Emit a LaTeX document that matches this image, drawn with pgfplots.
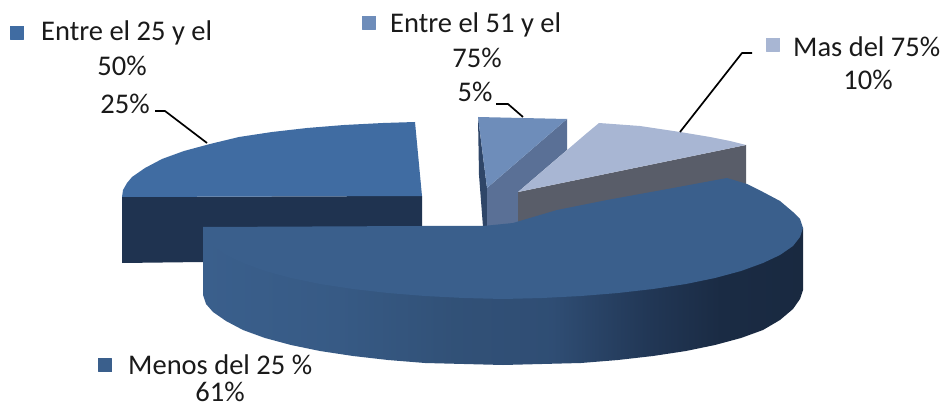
\documentclass[border=0pt]{standalone}
\usepackage{pgfplots}
\pgfplotsset{compat=1.18}
\usepackage{fontspec}
\setmainfont{Carlito}
\definecolor{bigtop}{HTML}{3A5F8C}
\definecolor{lefttop}{HTML}{406CA2}
\definecolor{leftside}{HTML}{1F3350}
\definecolor{smalltop}{HTML}{6E8DBA}
\definecolor{smallside}{HTML}{5A7096}
\definecolor{smalldark}{HTML}{2F4668}
\definecolor{lighttop}{HTML}{A8B6D3}
\definecolor{lightside}{HTML}{595D69}
\definecolor{txt}{HTML}{1A1A1A}
\pgfdeclarehorizontalshading{bigside}{100bp}{
  color(0bp)=(bigtop);
  color(25bp)=(bigtop);
  color(36bp)=(bigtop!95!black);
  color(46bp)=(bigtop!85!black);
  color(54bp)=(bigtop!60!leftside);
  color(62bp)=(leftside!90!bigtop);
  color(68bp)=(leftside!85!black);
  color(75bp)=(leftside!80!black);
  color(100bp)=(leftside!80!black)}
\begin{document}
\begin{tikzpicture}
\useasboundingbox (0,0) rectangle (946pt,409pt);
\begin{axis}[
  at={(0,0)}, anchor=south west,
  width=946pt, height=409pt, scale only axis,
  xmin=0, xmax=946, ymin=0, ymax=409, y dir=reverse,
  hide axis, clip=false,
  every axis plot/.append style={line join=round},
]
% left slice (25%)
\addplot[fill=leftside, draw=none] coordinates {(122,197) (422,196) (422,228) (203,262) (122,263)} -- cycle;
\addplot[fill=lefttop, draw=none] coordinates {(415,122) (383,123) (344,125) (307,128) (272,132) (239,137) (210,144) (184,151) (162,159) (145,168) (132,177) (127,183) (123,190) (122,197) (422,196)} -- cycle;
% small slice (5%)
\addplot[fill=smalldark, draw=none] coordinates {(478,117) (487,188) (487,227) (483,227) (479,175)} -- cycle;
\addplot[fill=smallside, draw=none] coordinates {(567,119) (487,188) (487,227) (518,227) (518,192) (567,150)} -- cycle;
\addplot[fill=smalltop, draw=none] coordinates {(478,117) (567,119) (487,188)} -- cycle;
% light slice (10%)
\addplot[fill=lightside, draw=none] coordinates {(746,145) (518,192) (518,226) (746,190)} -- cycle;
\addplot[fill=lighttop, draw=none] coordinates {(599,123) (640,126) (680,132) (710,137) (730,141) (746,145) (518,192) (587,133)} -- cycle;
% big slice (61%): wall, then top
\addplot[shading=bigside, draw=none] coordinates {(203,228) (803,228) (803,290) (800,299) (793,309) (780,320) (763,330) (741,338) (715,345) (686,351) (653,356) (618,360) (581,363) (542,364) (503,365) (464,364) (425,363) (388,360) (353,356) (320,351) (291,345) (265,338) (243,330) (226,321) (213,312) (206,304) (203,295)} -- cycle;
\addplot[fill=bigtop, draw=none] coordinates {(203,227) (422,226) (483,226) (513,223) (557,210) (607,200) (673,188) (727,178) (747,184) (763,192) (780,201) (793,212) (800,219) (803,228) (800,237) (793,246) (780,255) (763,263) (741,271) (715,278) (686,284) (653,289) (618,293) (581,296) (542,298) (503,299) (464,298) (425,296) (388,293) (353,289) (320,284) (291,278) (265,271) (243,263) (226,255) (213,246) (206,237)} -- cycle;
% leader lines
\addplot[black, line width=1.7pt] coordinates {(155,111) (165,111) (207,143)};
\addplot[black, line width=1.7pt] coordinates {(496,104) (508,104) (523,117)};
\addplot[black, line width=1.7pt] coordinates {(752,53) (742,53) (680,132)};
% label keys
\addplot[only marks, mark=square*, mark size=6.5pt, color=lefttop, mark options={draw=lefttop, fill=lefttop}] coordinates {(17,33)};
\addplot[only marks, mark=square*, mark size=6.5pt, color=smalltop, mark options={draw=smalltop, fill=smalltop}] coordinates {(369,23)};
\addplot[only marks, mark=square*, mark size=6.5pt, color=lighttop, mark options={draw=lighttop, fill=lighttop}] coordinates {(773,45)};
\addplot[only marks, mark=square*, mark size=6.5pt, color=bigtop, mark options={draw=bigtop, fill=bigtop}] coordinates {(105,365)};
% labels
\def\lab#1{\fontsize{28.5}{28.5}\selectfont #1}
\node[text=txt, anchor=west, inner sep=0pt] at (axis cs:41,33) {\lab{Entre el 25 y el}};
\node[text=txt, inner sep=0pt] at (axis cs:122,66) {\lab{50\%}};
\node[text=txt, inner sep=0pt] at (axis cs:125,104) {\lab{25\%}};
\node[text=txt, anchor=west, inner sep=0pt] at (axis cs:390,25) {\lab{Entre el 51 y el}};
\node[text=txt, inner sep=0pt] at (axis cs:477,58) {\lab{75\%}};
\node[text=txt, inner sep=0pt] at (axis cs:475,92) {\lab{5\%}};
\node[text=txt, anchor=west, inner sep=0pt] at (axis cs:793,47) {\lab{Mas del 75\%}};
\node[text=txt, inner sep=0pt] at (axis cs:868,80) {\lab{10\%}};
\node[text=txt, anchor=west, inner sep=0pt] at (axis cs:128,365) {\lab{Menos del 25 \%}};
\node[text=txt, inner sep=0pt] at (axis cs:220,392) {\lab{61\%}};
\end{axis}
\end{tikzpicture}
\end{document}
